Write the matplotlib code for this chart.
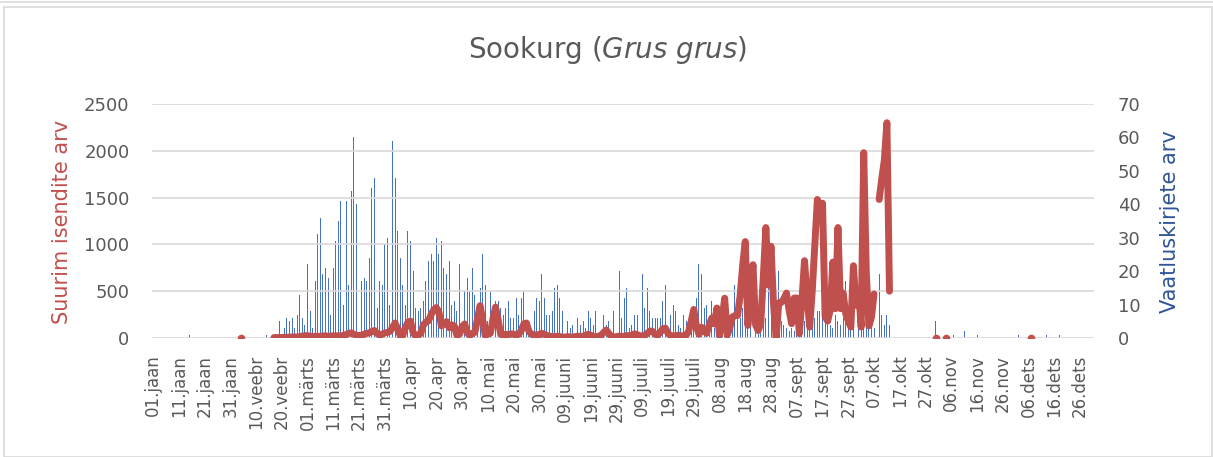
import numpy as np
import pandas as pd
import matplotlib
matplotlib.use('Agg')
import matplotlib.pyplot as plt
from matplotlib.patches import Rectangle

# Estonian month abbreviations used in the date labels
months_et = ['jaan', 'veebr', 'märts', 'apr', 'mai', 'juuni',
             'juuli', 'aug', 'sept', 'okt', 'nov', 'dets']
days = pd.date_range('2020-01-01', '2020-12-31', freq='D')

# Vaatluskirjete arv (bars, right axis) - one value per day, month by month
obs_jan = [0]*14 + [1] + [0]*16
obs_feb = [0]*13 + [1] + [0]*4 + [5, 0, 3, 6, 5, 6, 3, 7, 13, 6, 4]
obs_mar = [22, 8, 3, 17, 31, 36, 19, 21, 18, 7, 21, 29, 35, 41, 10, 41, 16,
           44, 60, 40, 46, 17, 18, 17, 24, 45, 48, 9, 17, 16, 28]
obs_apr = [30, 10, 59, 48, 32, 24, 16, 10, 32, 29, 20, 9, 8, 9, 11, 17, 23,
           25, 23, 30, 25, 29, 21, 19, 23, 10, 11, 8, 22, 34]
obs_may = [14, 18, 14, 21, 13, 7, 15, 25, 16, 5, 14, 0, 11, 11, 9, 7, 9, 11,
           6, 6, 12, 7, 12, 14, 3, 4, 2, 8, 12, 11, 19]
obs_jun = [12, 7, 7, 8, 15, 16, 12, 8, 7, 5, 3, 4, 0, 6, 4, 5, 3, 8, 6, 4,
           8, 0, 1, 7, 4, 5, 0, 8, 0, 20]
obs_jul = [6, 12, 15, 3, 4, 7, 7, 0, 19, 9, 15, 8, 6, 6, 6, 6, 11, 16, 0, 7,
           10, 8, 4, 3, 7, 5, 4, 6, 8, 12, 22]
obs_aug = [19, 9, 10, 6, 11, 3, 8, 2, 8, 5, 3, 7, 3, 16, 8, 6, 9, 5, 3, 4,
           3, 5, 2, 2, 4, 6, 15, 7, 3, 5, 20]
obs_sep = [5, 4, 3, 2, 3, 2, 4, 2, 4, 5, 3, 4, 3, 6, 8, 8, 11, 12, 6, 4, 3,
           7, 5, 4, 6, 17, 6, 3, 6, 3]
obs_oct = [9, 3, 3, 6, 6, 4, 3, 0, 19, 7, 4, 7, 4] + [0]*17 + [5]
obs_nov = [0]*6 + [1] + [0]*3 + [2] + [0]*4 + [1] + [0]*14
obs_dec = [0, 1] + [0]*10 + [1] + [0]*4 + [1] + [0]*13

# Suurim isendite arv (line, left axis) - None where there is no record
max_jan = [None]*31
max_feb = [None, None, None, 5] + [None]*12 + [5, 5, 5, 5, 8, 8, 10, 10, 12,
                                               10, 15, 20, 25]
max_mar = [25, 20, 15, 20, 15, 20, 20, 25, 15, 20, 25, 20, 25, 20, 30, 35, 50,
           55, 40, 30, 25, 30, 40, 50, 55, 70, 80, 50, 30, 40, 55]
max_apr = [60, 70, 110, 160, 100, 25, 30, 110, 170, 180, 60, 20, 30, 50, 140,
           170, 185, 250, 300, 325, 280, 130, 150, 175, 110, 140, 130, 30, 40,
           120]
max_may = [150, 60, 25, 50, 60, 200, 345, 200, 30, 40, 50, 200, 330, 200, 40,
           30, 40, 35, 45, 40, 30, 40, 80, 150, 160, 70, 40, 30, 35, 30, 50]
max_jun = [40, 25, 20, 15, 15, 20, 15, 10, 10, 15, 10, 10, 15, 20, 15, 20, 30,
           40, 30, 15, 10, 20, 25, 60, 85, 50, 15, 10, 15, 20]
max_jul = [15, 20, 25, 25, 30, 45, 35, 25, 20, 30, 50, 75, 70, 40, 30, 60, 100,
           105, 50, 25, 20, 25, 30, 25, 20, 30, 70, 180, 305, 130, 40]
max_aug = [115, 70, 50, 140, 213, 150, 320, 30, 200, 425, 30, 110, 225, 240,
           240, 450, 780, 1030, 135, 450, 783, 140, 80, 150, 650, 1180, 565,
           980, 350, 0, 374]
max_sep = [380, 420, 480, 300, 153, 427, 427, 46, 400, 826, 450, 117, 500,
           1000, 1480, 1380, 1440, 230, 180, 300, 810, 313, 1180, 313, 480,
           260, 180, 117, 772, 350]
max_oct = [500, 117, 1980, 700, 130, 220, 470, None, 1480, 1700, 1900, 2300,
           500] + [None]*17 + [5]
max_nov = [None]*3 + [5] + [None]*26
max_dec = [None]*6 + [5] + [None]*24

obs = np.array(obs_jan + obs_feb + obs_mar + obs_apr + obs_may + obs_jun +
               obs_jul + obs_aug + obs_sep + obs_oct + obs_nov + obs_dec)
birds = np.array(max_jan + max_feb + max_mar + max_apr + max_may + max_jun +
                 max_jul + max_aug + max_sep + max_oct + max_nov + max_dec,
                 dtype=float)

x = np.arange(len(days))
labels = ['%02d.%s' % (d.day, months_et[d.month - 1]) for d in days]

grey = '#595959'
red = '#C0504D'
blue = '#4472C4'

fig = plt.figure(figsize=(12.13, 4.57), dpi=100)
fig.patches.append(Rectangle((4/1213, 0), 1208/1213, 1 - 7/457,
                             transform=fig.transFigure, fill=False,
                             edgecolor='#D9D9D9', lw=1.2))
fig.add_artist(plt.Line2D([0, 1], [1 - 2/457, 1 - 2/457], color='#D9D9D9', lw=1.2))

ax = fig.add_axes([151.7/1213, 1 - 338/457, 942.5/1213, 234/457])
ax2 = ax.twinx()

ax2.bar(x, obs, width=0.38, color=blue, linewidth=0)
ax2.set_ylim(0, 70)
ax2.set_yticks(range(0, 71, 10))

ax.plot(x, birds, color=red, lw=5, solid_capstyle='round', solid_joinstyle='round')
# single days without neighbours show as dots
prev = np.r_[np.nan, birds[:-1]]
nxt = np.r_[birds[1:], np.nan]
lone = ~np.isnan(birds) & np.isnan(prev) & np.isnan(nxt)
ax.plot(x[lone], birds[lone], 'o', color=red, ms=5.5, mew=0)

ax.set_ylim(0, 2500)
ax.set_yticks(range(0, 2501, 500))
ax.set_xlim(-0.5, len(days) - 0.5)
ax.set_xticks(x[::10])
ax.set_xticklabels(labels[::10], rotation=90)

ax.set_zorder(ax2.get_zorder() + 1)
ax.patch.set_visible(False)
ax.yaxis.grid(True, color='#D9D9D9', lw=1.2)
ax.set_axisbelow(True)

for a in (ax, ax2):
    for s in a.spines.values():
        s.set_visible(False)
ax.tick_params(axis='y', length=0, pad=16, labelsize=13, labelcolor=grey)
ax.tick_params(axis='x', length=0, pad=12, labelsize=12, labelcolor=grey)
ax2.tick_params(axis='y', length=0, pad=17, labelsize=13, labelcolor=grey)

fig.text(62/1213, 1 - 222/457, 'Suurim isendite arv', rotation=90,
         ha='center', va='center', fontsize=15, color=red)
fig.text(1170/1213, 1 - 222/457, 'Vaatluskirjete arv', rotation=90,
         ha='center', va='center', fontsize=15, color='#2F5597')
fig.text(608/1213, 1 - 50/457, r'Sookurg ($\it{Grus\ grus}$)',
         ha='center', va='center', fontsize=20, color=grey)

fig.savefig('out.png', dpi=100)
